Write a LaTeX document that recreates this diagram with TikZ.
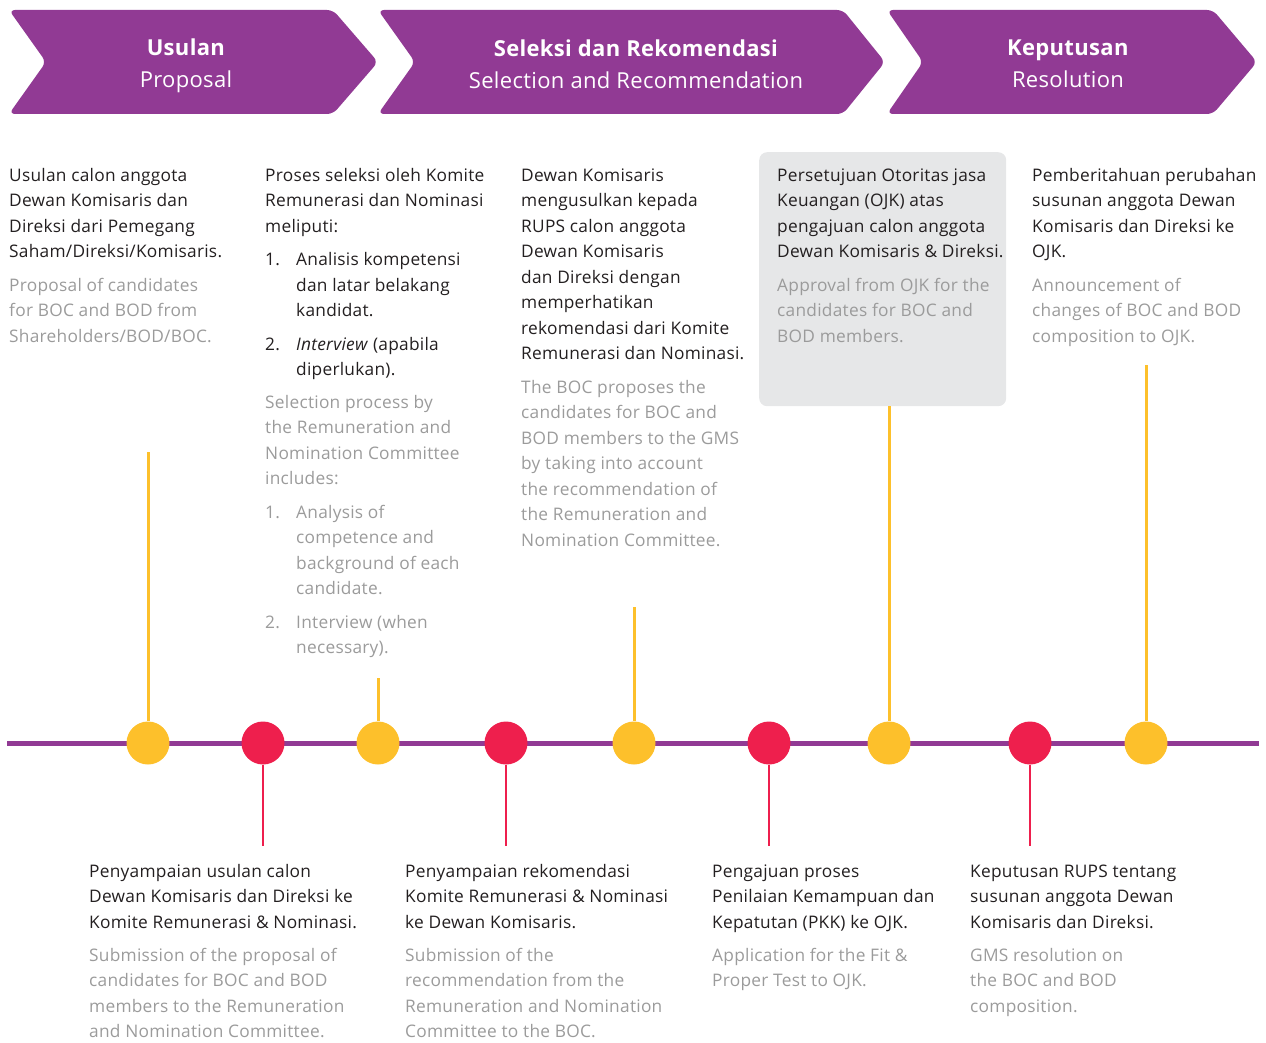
\documentclass[tikz,border=0pt]{standalone}
\usepackage{fontspec}
\setmainfont[LetterSpace=1.5]{Open Sans}
\usetikzlibrary{positioning}
\definecolor{plum}{HTML}{913A94}
\definecolor{sun}{HTML}{FDC02B}
\definecolor{rose}{HTML}{EE1F4D}
\definecolor{ink}{HTML}{231F20}
\definecolor{mist}{HTML}{9B9B9B}
\definecolor{panel}{HTML}{E6E7E8}
\newcommand{\topstrut}{\rule{0pt}{13pt}}
\newcommand{\itemno}[1]{\makebox[31pt][l]{#1}}
\newcommand{\itemgap}{\hspace*{31pt}}

\begin{document}
\begin{tikzpicture}[x=1pt, y=-1pt,
            chevron/.style={fill=plum, rounded corners=6pt},
            head/.style={text=white, align=center, inner sep=0pt, font=\fontsize{22}{32}\selectfont},
            blurb/.style={anchor=north west, inner sep=0pt, align=left, text=ink, font=\fontsize{17.3}{25.5}\selectfont},
            gloss/.style={blurb, text=mist},
            dotY/.style={circle, fill=sun, minimum size=43pt, inner sep=0pt},
            dotR/.style={circle, fill=rose, minimum size=43pt, inner sep=0pt},
            stemY/.style={draw=sun, line width=3pt},
            stemR/.style={draw=rose, line width=2.5pt}]
            \useasboundingbox (0,0) rectangle (1266,1043);

            % phase chevrons
            \fill[chevron] (9,10) -- (333,10) -- (378,62) -- (333,114) -- (9,114) -- (46,62) -- cycle;
            \fill[chevron] (378,10) -- (843,10) -- (885,62) -- (843,114) -- (378,114) -- (415,62) -- cycle;
            \fill[chevron] (887,10) -- (1213,10) -- (1257,62) -- (1213,114) -- (887,114) -- (923,62) -- cycle;
            \node[head] (usulan) at (186,65.5) {\textbf{Usulan}\\Proposal};
            \node[head] (seleksi) at (636,64) {\textbf{Seleksi dan Rekomendasi}\\Selection and Recommendation};
            \node[head] (keputusan) at (1068,64) {\textbf{Keputusan}\\Resolution};

            % upper descriptions
            \node[blurb] (propID) at (9,168) {\topstrut Usulan calon anggota\\Dewan Komisaris dan\\Direksi dari Pemegang\\Saham/Direksi/Komisaris.};
            \node[gloss] (propEN) at (9,278) {\topstrut Proposal of candidates\\for BOC and BOD from\\Shareholders/BOD/BOC.};

            \node[blurb] (selID) at (265,168) {\topstrut Proses seleksi oleh Komite\\Remunerasi dan Nominasi\\meliputi:\\[8pt]
                \itemno{1.}Analisis kompetensi\\\itemgap dan latar belakang\\\itemgap kandidat.\\[8pt]
                \itemno{2.}\textit{Interview} (apabila\\\itemgap diperlukan).};
            \node[gloss] (selEN) at (265,395) {\topstrut Selection process by\\the Remuneration and\\Nomination Committee\\includes:\\[8pt]
                \itemno{1.}Analysis of\\\itemgap competence and\\\itemgap background of each\\\itemgap candidate.\\[8pt]
                \itemno{2.}Interview (when\\\itemgap necessary).};

            \node[blurb] (bocID) at (521,168) {\topstrut Dewan Komisaris\\mengusulkan kepada\\RUPS calon anggota\\Dewan Komisaris\\dan Direksi dengan\\memperhatikan\\rekomendasi dari Komite\\Remunerasi dan Nominasi.};
            \node[gloss] (bocEN) at (521,380) {\topstrut The BOC proposes the\\candidates for BOC and\\BOD members to the GMS\\by taking into account\\the recommendation of\\the Remuneration and\\Nomination Committee.};

            \node[fill=panel, rounded corners=8pt, anchor=north west, minimum width=247pt, minimum height=254pt, inner sep=0pt] (okbox) at (759,152) {};
            \node[blurb] (ojkID) at (777,168) {\topstrut Persetujuan Otoritas jasa\\Keuangan (OJK) atas\\pengajuan calon anggota\\Dewan Komisaris \& Direksi.};
            \node[gloss] (ojkEN) at (777,278) {\topstrut Approval from OJK for the\\candidates for BOC and\\BOD members.};

            \node[blurb] (notifID) at (1032,168) {\topstrut Pemberitahuan perubahan\\susunan anggota Dewan\\Komisaris dan Direksi ke\\OJK.};
            \node[gloss] (notifEN) at (1032,278) {\topstrut Announcement of\\changes of BOC and BOD\\composition to OJK.};

            % lower descriptions
            \node[blurb] (subID) at (89,864) {\topstrut Penyampaian usulan calon\\Dewan Komisaris dan Direksi ke\\Komite Remunerasi \& Nominasi.};
            \node[gloss] (subEN) at (89,948) {\topstrut Submission of the proposal of\\candidates for BOC and BOD\\members to the Remuneration\\and Nomination Committee.};

            \node[blurb] (recID) at (405,864) {\topstrut Penyampaian rekomendasi\\Komite Remunerasi \& Nominasi\\ke Dewan Komisaris.};
            \node[gloss] (recEN) at (405,948) {\topstrut Submission of the\\recommendation from the\\Remuneration and Nomination\\Committee to the BOC.};

            \node[blurb] (pkkID) at (712,864) {\topstrut Pengajuan proses\\Penilaian Kemampuan dan\\Kepatutan (PKK) ke OJK.};
            \node[gloss] (pkkEN) at (712,948) {\topstrut Application for the Fit \&\\Proper Test to OJK.};

            \node[blurb] (gmsID) at (970,864) {\topstrut Keputusan RUPS tentang\\susunan anggota Dewan\\Komisaris dan Direksi.};
            \node[gloss] (gmsEN) at (970,948) {\topstrut GMS resolution on\\the BOC and BOD\\composition.};

            % timeline
            \coordinate (lineL) at (7,743);
            \coordinate (lineR) at (1259,743);
            \draw[plum, line width=5pt] (lineL) -- (lineR);

            \coordinate (top1) at (148,452);
            \coordinate (top3) at (378,678);
            \coordinate (top5) at (634,607);
            \coordinate (top9) at (1146,365);
            \coordinate (bot2) at (263,846);
            \coordinate (bot4) at (506,846);
            \coordinate (bot6) at (769,846);
            \coordinate (bot8) at (1030,846);

            \node[dotY] (d1) at (148,743) {};
            \node[dotR] (d2) at (263,743) {};
            \node[dotY] (d3) at (378,743) {};
            \node[dotR] (d4) at (506,743) {};
            \node[dotY] (d5) at (634,743) {};
            \node[dotR] (d6) at (769,743) {};
            \node[dotY] (d7) at (889,743) {};
            \node[dotR] (d8) at (1030,743) {};
            \node[dotY] (d9) at (1146,743) {};

            \draw[stemY] (top1) -- (d1);
            \draw[stemY] (top3) -- (d3);
            \draw[stemY] (top5) -- (d5);
            \draw[stemY] (okbox.south -| d7) -- (d7);
            \draw[stemY] (top9) -- (d9);
            \draw[stemR] (d2) -- (bot2);
            \draw[stemR] (d4) -- (bot4);
            \draw[stemR] (d6) -- (bot6);
            \draw[stemR] (d8) -- (bot8);
        \end{tikzpicture}
\end{document}
